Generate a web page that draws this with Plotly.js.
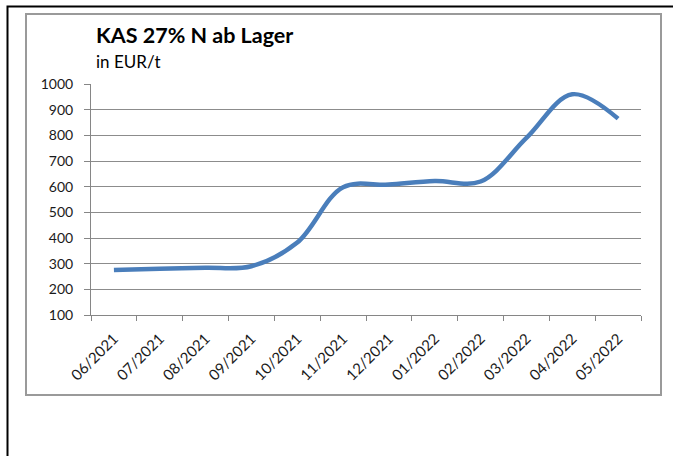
<!DOCTYPE html>
<html>
<head>
<meta charset="utf-8">
<script src="https://cdn.plot.ly/plotly-3.0.1.min.js"></script>
<style>html,body{margin:0;padding:0;background:#fff;}#chart{width:673px;height:456px;}</style>
</head>
<body>
<div id="chart"></div>
<script>
const categories = ["06/2021","07/2021","08/2021","09/2021","10/2021","11/2021","12/2021","01/2022","02/2022","03/2022","04/2022","05/2022"];
const prices = [275, 280, 284, 290, 382, 598, 608, 622, 620, 790, 960, 865];
const yTicks = [100, 200, 300, 400, 500, 600, 700, 800, 900, 1000];
const titleText = "KAS 27% N ab Lager";
const subtitleText = "in EUR/t";

const W = 673, H = 456;
const M = {l: 91, r: 32, t: 84, b: 141};
const pw = W - M.l - M.r, ph = H - M.t - M.b;
const px = v => (v - M.l) / pw;
const py = v => (H - M.b - v) / ph;

const font = "Lato, 'Open Sans', sans-serif";

const trace = {
  x: categories,
  y: prices,
  type: "scatter",
  mode: "lines",
  line: {color: "#4a7ebb", width: 4.5, shape: "spline", smoothing: 1},
  hoverinfo: "x+y"
};

const layout = {
  width: W, height: H,
  margin: M,
  paper_bgcolor: "#fff",
  plot_bgcolor: "#fff",
  showlegend: false,
  font: {family: font, size: 13, color: "#1a1a1a"},
  xaxis: {
    type: "category",
    range: [-0.5, categories.length - 0.5],
    tickangle: -45,
    tickson: "boundaries",
    ticks: "outside",
    ticklen: 5,
    tickcolor: "#868686",
    showline: true,
    linecolor: "#868686",
    linewidth: 1,
    showgrid: false,
    zeroline: false,
    ticklabelstandoff: 8,
    tickfont: {family: font, size: 15, color: "#1a1a1a"},
    fixedrange: true
  },
  yaxis: {
    range: [100, 1000],
    tickvals: yTicks,
    ticktext: yTicks.map(String),
    ticks: "outside",
    ticklen: 6,
    tickcolor: "#868686",
    showline: true,
    linecolor: "#868686",
    linewidth: 1,
    showgrid: true,
    gridcolor: "#8c8c8c",
    gridwidth: 1,
    zeroline: false,
    ticklabelstandoff: 8,
    tickfont: {family: font, size: 14, color: "#1a1a1a"},
    fixedrange: true
  },
  annotations: [
    {xref: "paper", yref: "paper", x: px(94), y: py(35), xanchor: "left", yanchor: "middle",
     text: "<b>" + titleText + "</b>", showarrow: false,
     font: {family: font, size: 21.5, color: "#000"}},
    {xref: "paper", yref: "paper", x: px(94), y: py(62), xanchor: "left", yanchor: "middle",
     text: subtitleText, showarrow: false,
     font: {family: font, size: 17, color: "#000"}}
  ],
  shapes: [
    {type: "rect", xref: "paper", yref: "paper", x0: px(26), x1: px(661), y0: py(14), y1: py(395),
     line: {color: "#9a9a9a", width: 2}, layer: "below"},
    {type: "rect", xref: "paper", yref: "paper", x0: px(7.5), x1: px(690), y0: py(6.5), y1: py(480),
     line: {color: "#000", width: 2}, layer: "below"}
  ]
};

Plotly.newPlot("chart", [trace], layout, {displayModeBar: false, staticPlot: true});
</script>
</body>
</html>
